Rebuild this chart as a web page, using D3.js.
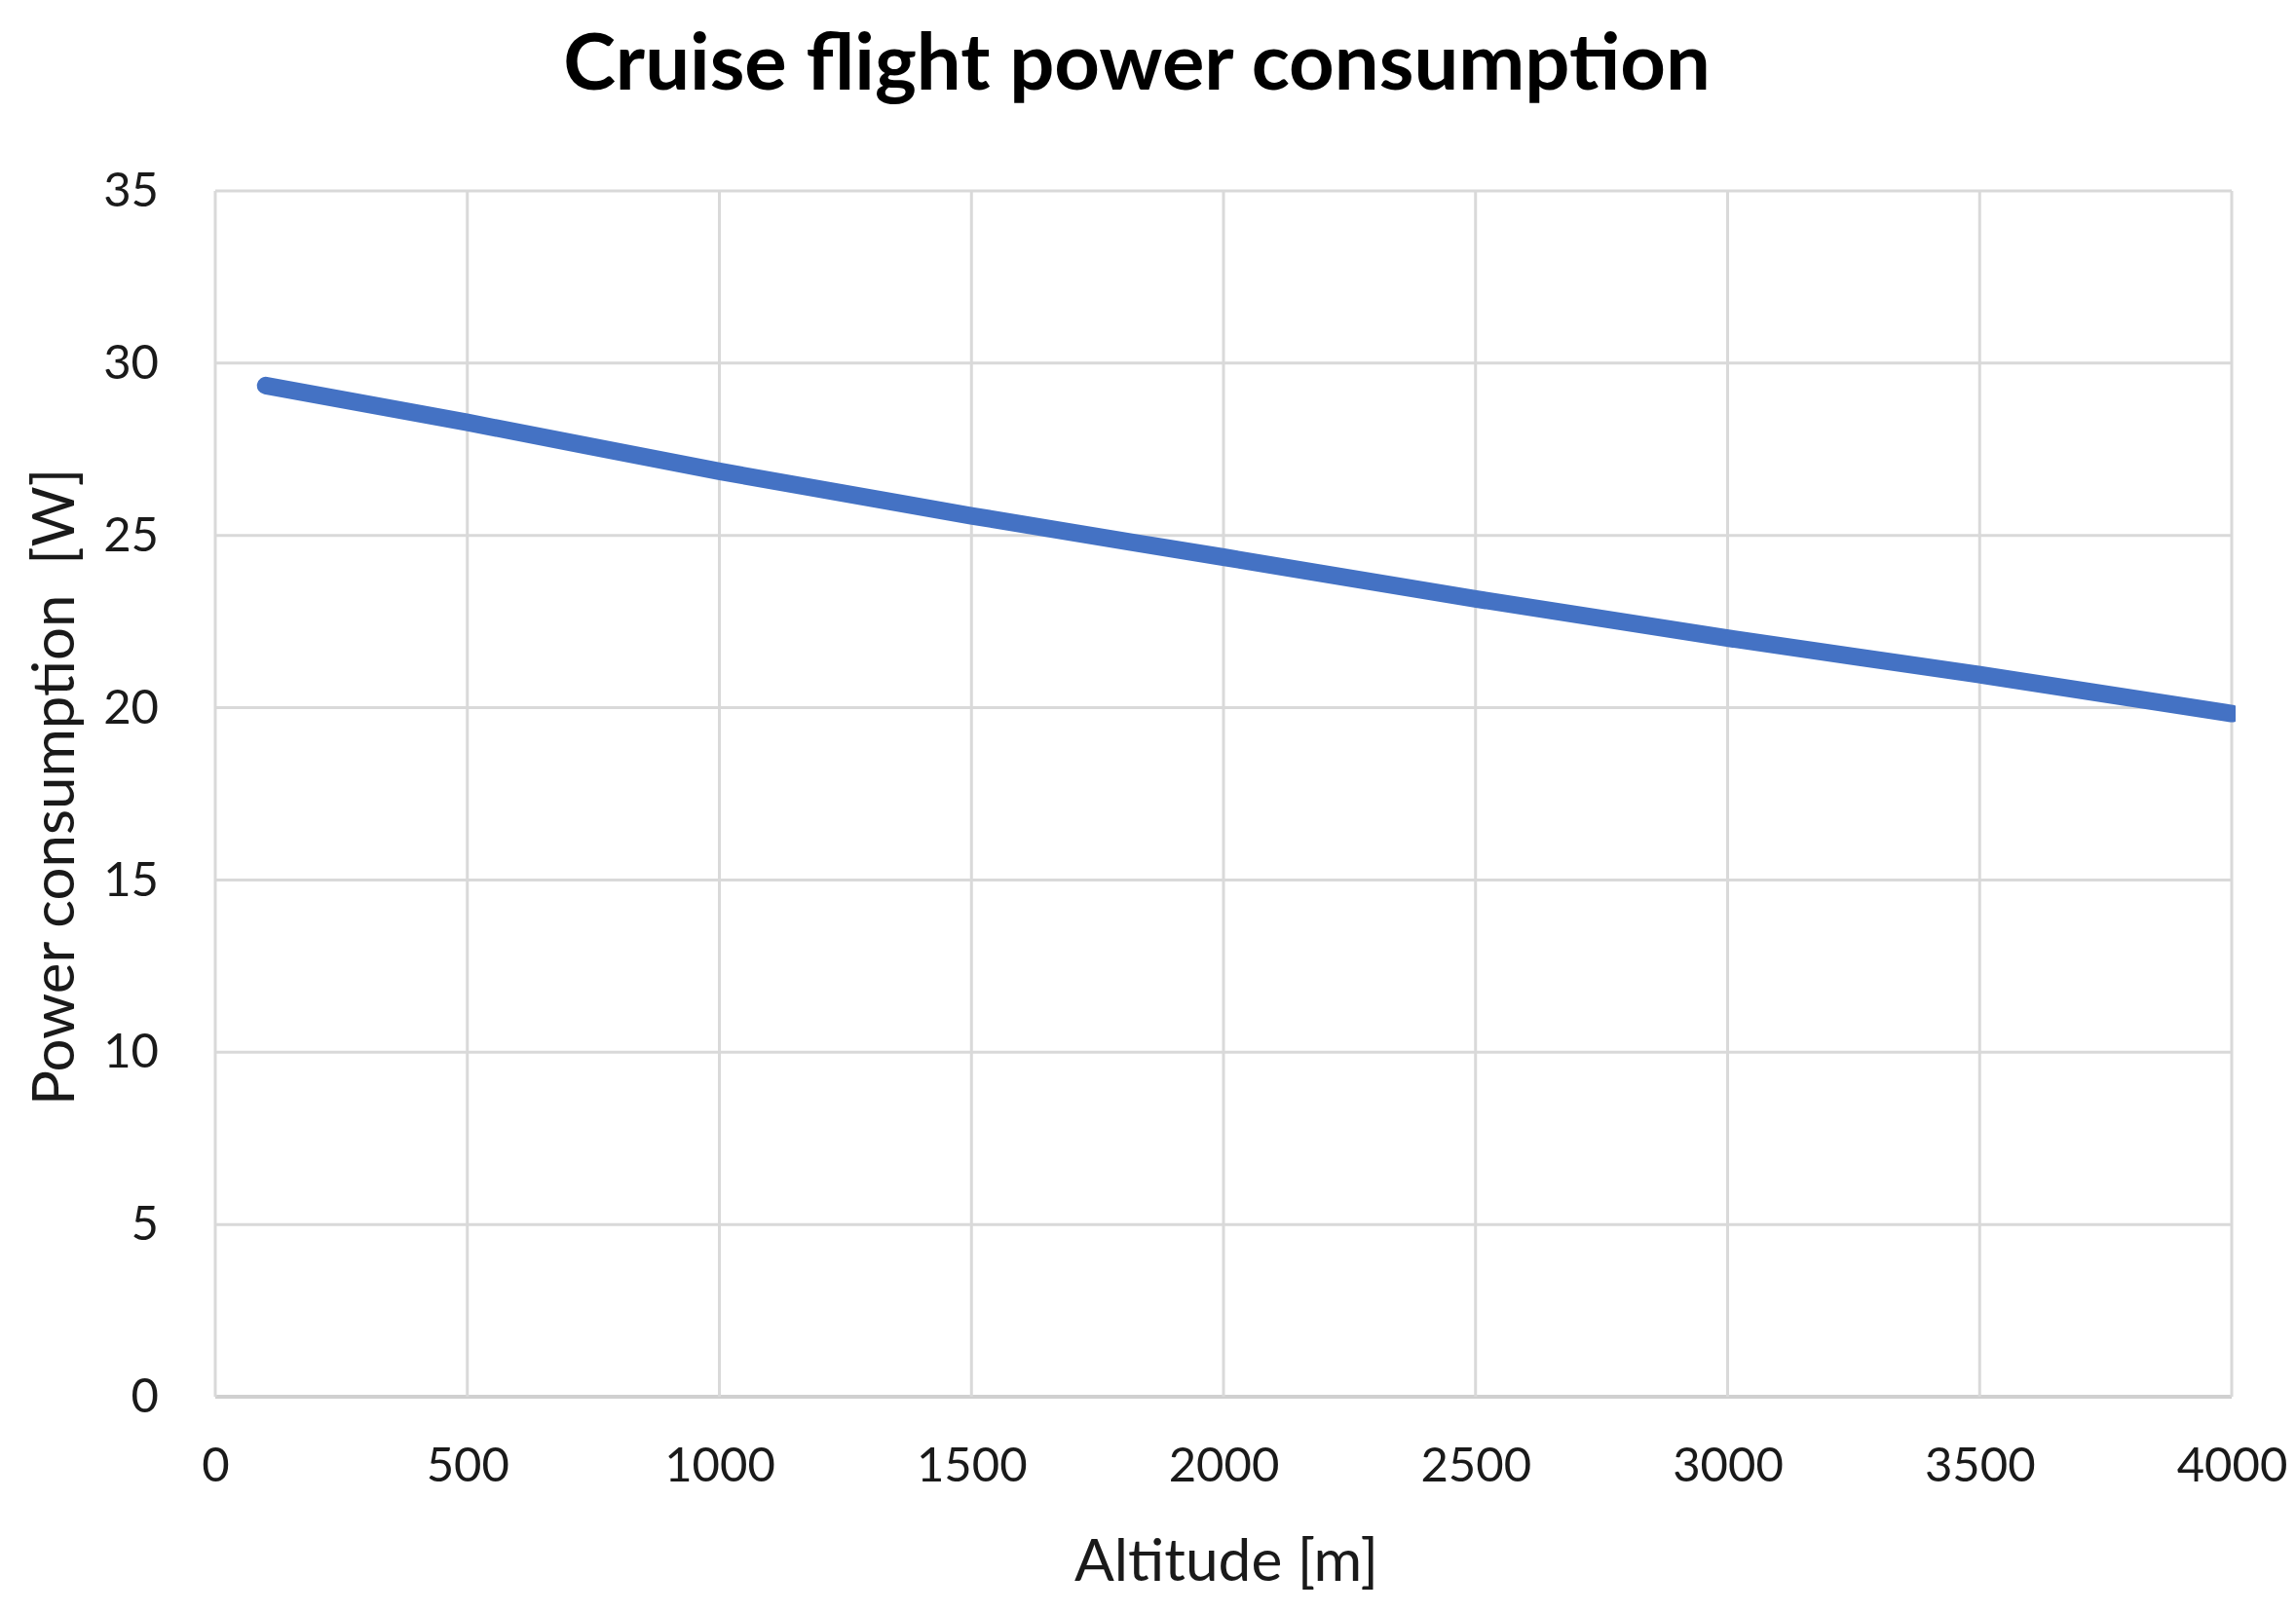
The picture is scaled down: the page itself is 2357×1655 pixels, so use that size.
<!DOCTYPE html>
<html>
<head>
<meta charset="utf-8">
<script src="https://cdn.jsdelivr.net/npm/d3@7"></script>
<style>
  html, body { margin: 0; padding: 0; background: #ffffff; }
  svg { display: block; }
</style>
</head>
<body>
<svg id="chart" width="2357" height="1655"></svg>
<script>
// ---- data ----
const altitude = [100, 500, 1000, 1500, 2000, 2500, 3000, 3500, 4000];
const power    = [29.35, 28.28, 26.86, 25.57, 24.37, 23.16, 22.02, 20.96, 19.83];
const xTicks = [0, 500, 1000, 1500, 2000, 2500, 3000, 3500, 4000];
const yTicks = [0, 5, 10, 15, 20, 25, 30, 35];
const titleText = "Cruise flight power consumption";
const xTitle = "Altitude [m]";
const yTitle = "Power consumption  [W]";

// ---- layout ----
const W = 2357, H = 1655;
const plot = { left: 221, right: 2291, top: 196, bottom: 1434 };
const FONT = "Lato, 'Open Sans', sans-serif";
const gridColor = "#d9d9d9";
const lineColor = "#4472C4";

const svg = d3.select("#chart");
svg.append("rect").attr("width", W).attr("height", H).attr("fill", "#fff");

const x = d3.scaleLinear().domain([0, 4000]).range([plot.left, plot.right]);
const y = d3.scaleLinear().domain([0, 35]).range([plot.bottom, plot.top]);

// gridlines
const g = svg.append("g");
g.selectAll("line.h").data(yTicks).join("line")
  .attr("x1", plot.left).attr("x2", plot.right)
  .attr("y1", d => y(d)).attr("y2", d => y(d))
  .attr("stroke", d => d === 0 ? "#d0d0d0" : gridColor)
  .attr("stroke-width", d => d === 0 ? 4 : 3);
g.selectAll("line.v").data(xTicks).join("line")
  .attr("y1", plot.top).attr("y2", plot.bottom)
  .attr("x1", d => x(d)).attr("x2", d => x(d))
  .attr("stroke", gridColor).attr("stroke-width", 3);

// axes (labels only)
const yAxis = d3.axisLeft(y).tickValues(yTicks).tickSize(0).tickPadding(58).tickFormat(d3.format("d"));
const ya = svg.append("g").attr("transform", `translate(${plot.left},0)`).call(yAxis);
ya.select(".domain").remove();
ya.selectAll("text").attr("font-family", FONT).attr("font-size", 49).attr("fill", "#1a1a1a");

const xAxis = d3.axisBottom(x).tickValues(xTicks).tickSize(0).tickPadding(52).tickFormat(d3.format("d"));
const xa = svg.append("g").attr("transform", `translate(0,${plot.bottom})`).call(xAxis);
xa.select(".domain").remove();
xa.selectAll("text").attr("font-family", FONT).attr("font-size", 49).attr("fill", "#1a1a1a");

// clip (line ends flat at the right edge of the plot)
svg.append("clipPath").attr("id", "clip").append("rect")
  .attr("x", plot.left - 20).attr("y", plot.top - 20)
  .attr("width", plot.right - plot.left + 24).attr("height", plot.bottom - plot.top + 40);

// line
const pts = altitude.map((a, i) => [a, power[i]]);
svg.append("path")
  .attr("clip-path", "url(#clip)")
  .attr("d", d3.line().x(d => x(d[0])).y(d => y(d[1])).curve(d3.curveMonotoneX)(pts))
  .attr("fill", "none").attr("stroke", lineColor)
  .attr("stroke-width", 18).attr("stroke-linecap", "round").attr("stroke-linejoin", "round");

// helper to fit text width
function fit(sel, target, base) {
  sel.attr("font-size", base);
  const w = sel.node().getComputedTextLength();
  sel.attr("font-size", base * target / w);
}

const t = svg.append("text").text(titleText)
  .attr("x", 1167).attr("y", 92).attr("text-anchor", "middle")
  .attr("font-family", FONT).attr("font-weight", 700).attr("fill", "#000");
fit(t, 1178, 80);

const xt = svg.append("text").text(xTitle)
  .attr("x", 1259).attr("y", 1623).attr("text-anchor", "middle")
  .attr("font-family", FONT).attr("fill", "#1a1a1a");
fit(xt, 312, 60);

const yt = svg.append("text").text(yTitle)
  .attr("transform", "translate(76,808) rotate(-90)").attr("text-anchor", "middle")
  .attr("font-family", FONT).attr("fill", "#1a1a1a").attr("xml:space", "preserve")
  .style("white-space", "pre");
fit(yt, 654, 60);
</script>
</body>
</html>
